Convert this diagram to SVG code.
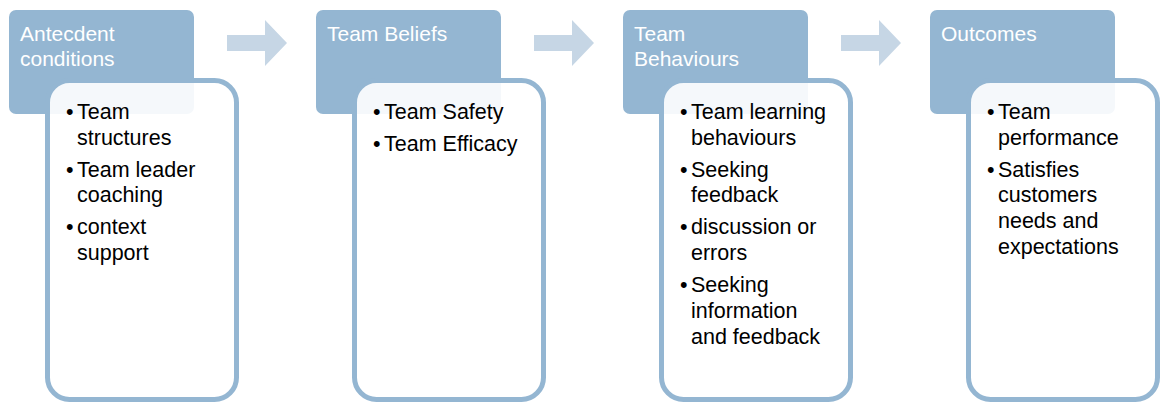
<svg xmlns="http://www.w3.org/2000/svg" width="1160" height="403" viewBox="0 0 1160 403">
  <style>
    .hdr { fill: #94B6D2; }
    .card { fill: #FFFFFF; fill-opacity: 0.9; stroke: #94B6D2; stroke-width: 5; }
    .arrow { fill: #C6D6E5; }
    .title { font-family: "Liberation Sans", Arial, sans-serif; font-size: 21px; fill: #FFFFFF; }
    .item { font-family: "Liberation Sans", Arial, sans-serif; font-size: 21.5px; fill: #000000; }
  </style>
  <defs>
    <path id="chevron" d="M0,8 H38 V-7 L60,16 L38,39 V24 H0 Z"/>
  </defs>

  <g id="connectors">
    <use href="#chevron" class="arrow" transform="translate(227,27)"/>
    <use href="#chevron" class="arrow" transform="translate(534,27)"/>
    <use href="#chevron" class="arrow" transform="translate(841,27)"/>
  </g>

  <g id="antecedent-conditions">
    <rect class="hdr" x="9" y="10" width="185" height="104" rx="7"/>
    <text class="title" x="20" y="41">Antecdent</text>
    <text class="title" x="20" y="66">conditions</text>
    <rect class="card" x="47.5" y="80.5" width="189" height="319" rx="22"/>
    <text class="item"><tspan x="66" y="119">•</tspan><tspan x="77" y="119">Team</tspan><tspan x="77" y="145">structures</tspan>
      <tspan x="66" y="177">•</tspan><tspan x="77" y="177">Team leader</tspan><tspan x="77" y="202">coaching</tspan>
      <tspan x="66" y="234">•</tspan><tspan x="77" y="234">context</tspan><tspan x="77" y="260">support</tspan></text>
  </g>

  <g id="team-beliefs">
    <rect class="hdr" x="316" y="10" width="185" height="104" rx="7"/>
    <text class="title" x="327" y="41">Team Beliefs</text>
    <rect class="card" x="354.5" y="80.5" width="189" height="319" rx="22"/>
    <text class="item"><tspan x="373" y="119">•</tspan><tspan x="384" y="119">Team Safety</tspan>
      <tspan x="373" y="151">•</tspan><tspan x="384" y="151">Team Efficacy</tspan></text>
  </g>

  <g id="team-behaviours">
    <rect class="hdr" x="623" y="10" width="185" height="104" rx="7"/>
    <text class="title" x="634" y="41">Team</text>
    <text class="title" x="634" y="66">Behaviours</text>
    <rect class="card" x="661.5" y="80.5" width="189" height="319" rx="22"/>
    <text class="item"><tspan x="680" y="119">•</tspan><tspan x="691" y="119">Team learning</tspan><tspan x="691" y="145">behaviours</tspan>
      <tspan x="680" y="177">•</tspan><tspan x="691" y="177">Seeking</tspan><tspan x="691" y="202">feedback</tspan>
      <tspan x="680" y="234">•</tspan><tspan x="691" y="234">discussion or</tspan><tspan x="691" y="260">errors</tspan>
      <tspan x="680" y="292">•</tspan><tspan x="691" y="292">Seeking</tspan><tspan x="691" y="318">information</tspan><tspan x="691" y="344">and feedback</tspan></text>
  </g>

  <g id="outcomes">
    <rect class="hdr" x="930" y="10" width="185" height="104" rx="7"/>
    <text class="title" x="941" y="41">Outcomes</text>
    <rect class="card" x="968.5" y="80.5" width="189" height="319" rx="22"/>
    <text class="item"><tspan x="987" y="119">•</tspan><tspan x="998" y="119">Team</tspan><tspan x="998" y="145">performance</tspan>
      <tspan x="987" y="177">•</tspan><tspan x="998" y="177">Satisfies</tspan><tspan x="998" y="202">customers</tspan><tspan x="998" y="228">needs and</tspan><tspan x="998" y="254">expectations</tspan></text>
  </g>
</svg>
